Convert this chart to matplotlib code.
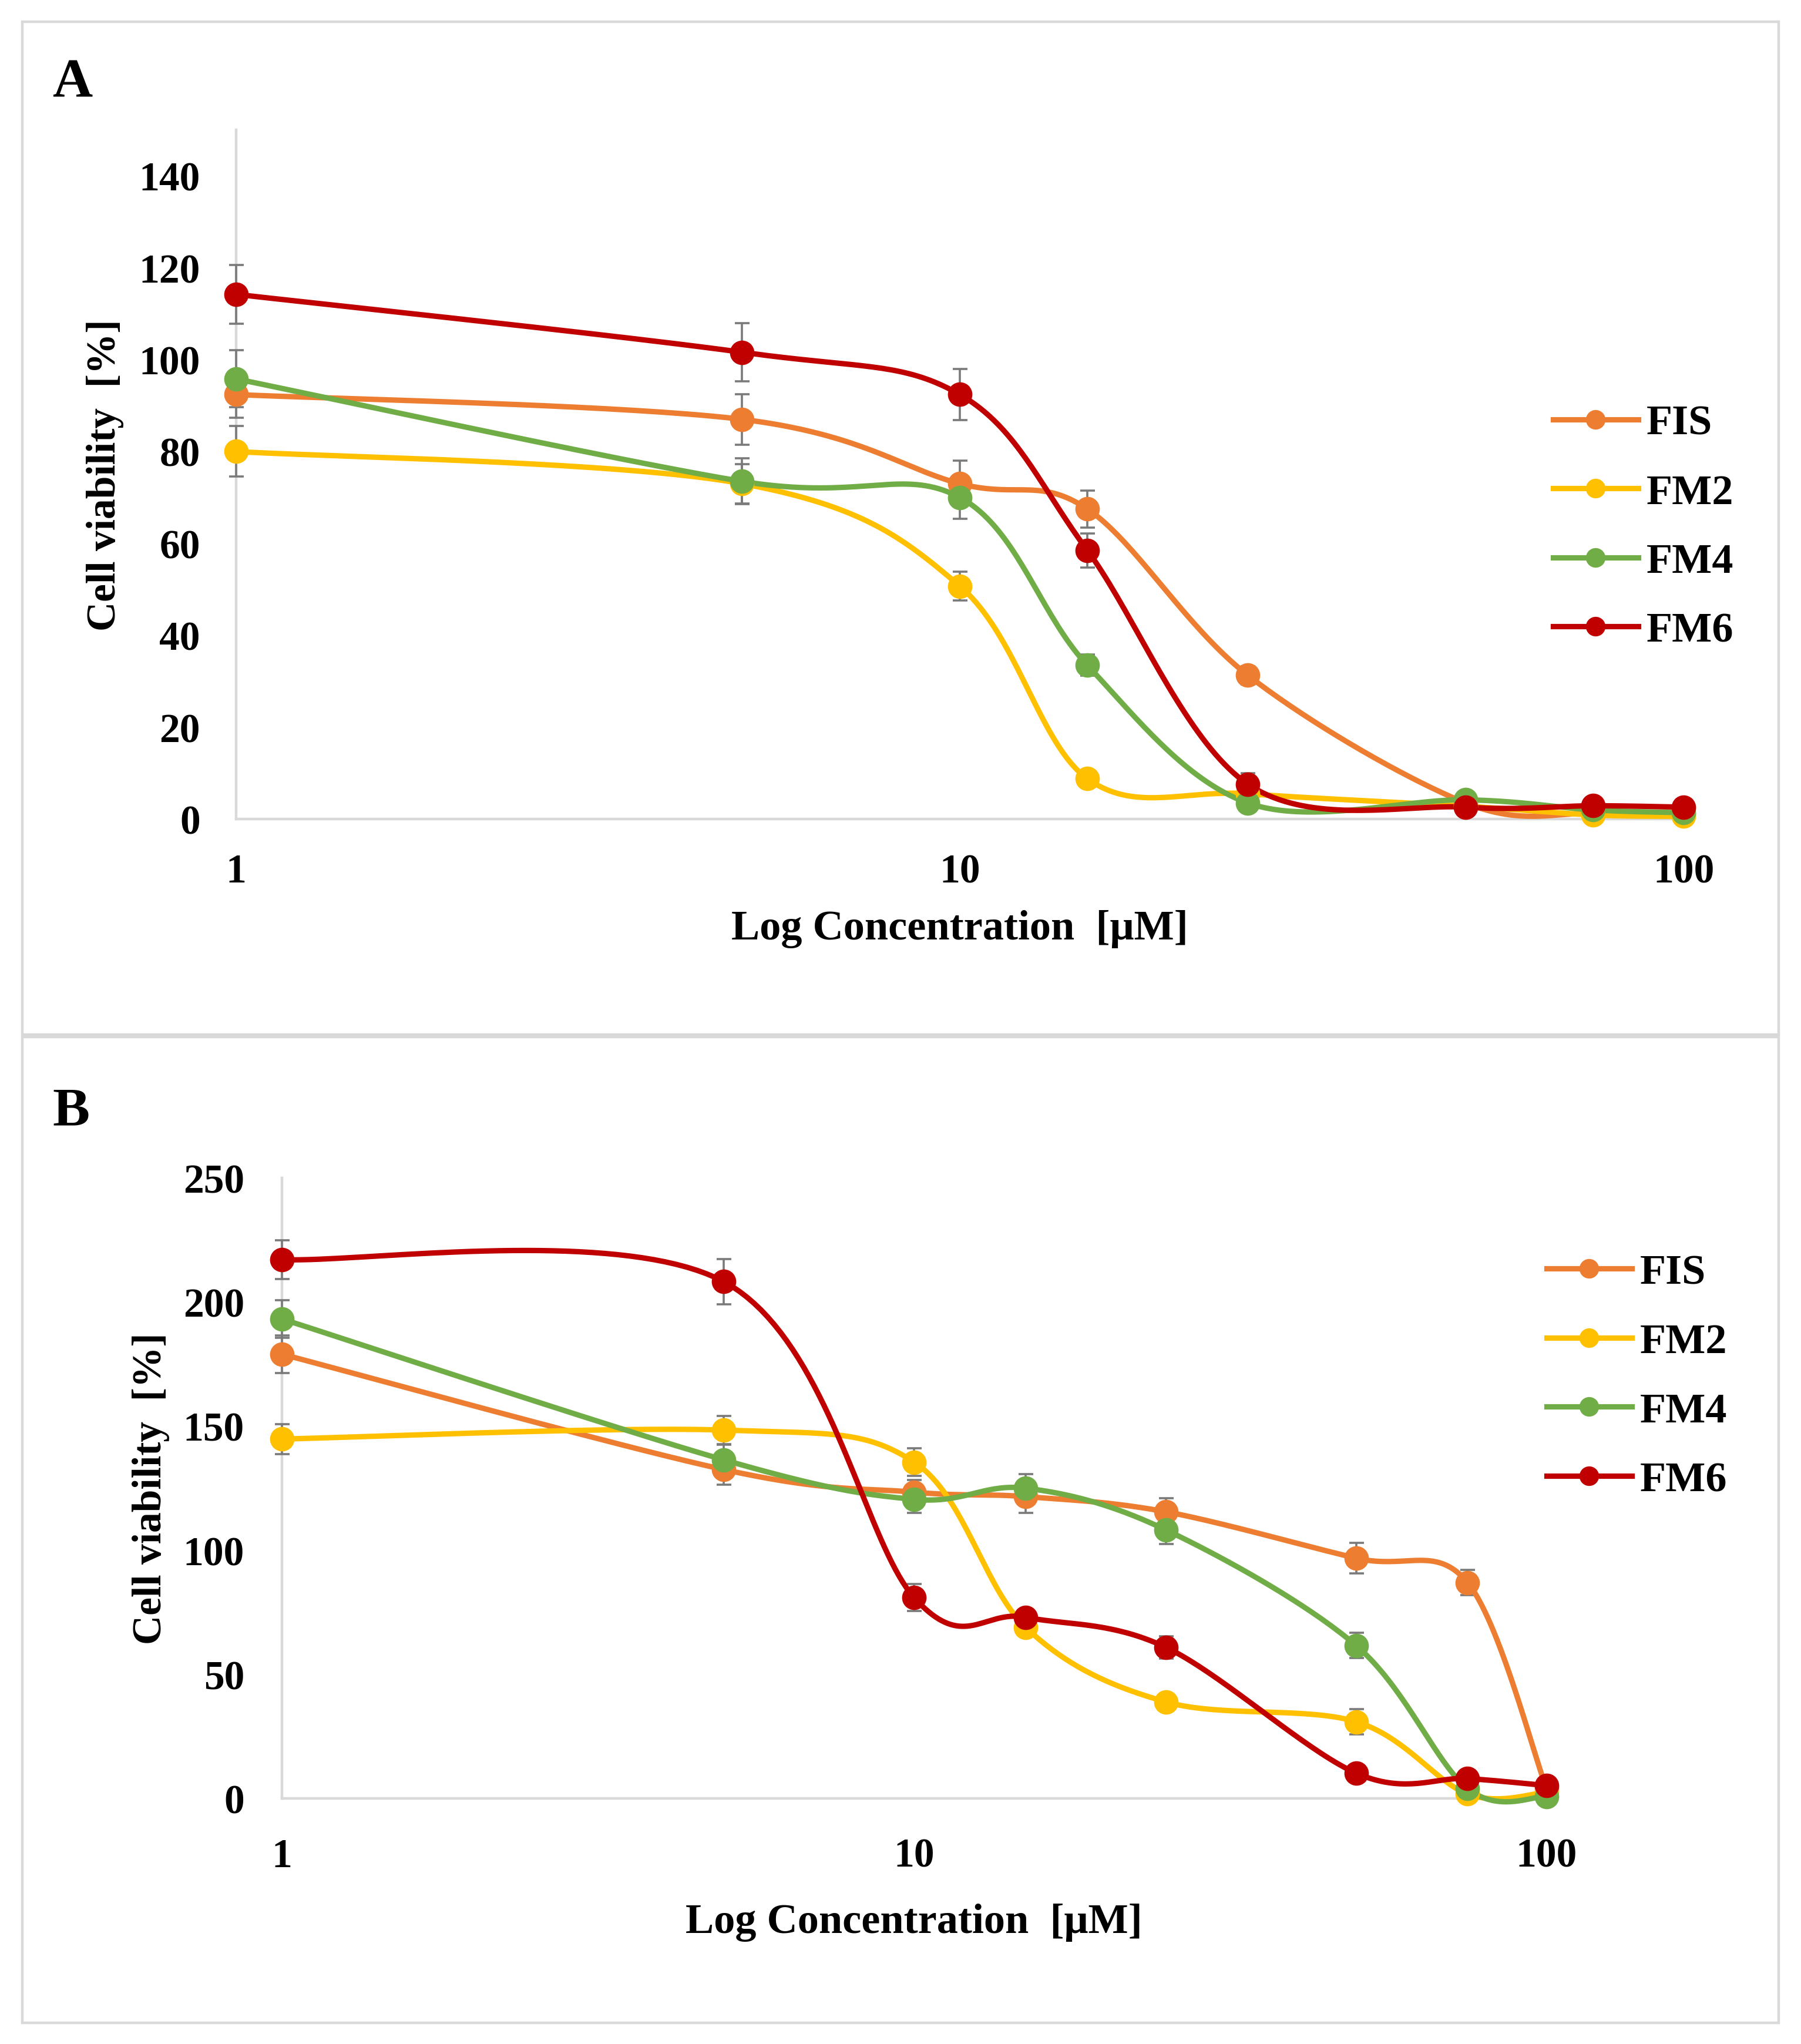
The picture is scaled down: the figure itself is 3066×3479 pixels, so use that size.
import numpy as np
import matplotlib
matplotlib.use("Agg")
import matplotlib.pyplot as plt
from matplotlib.patches import Rectangle
from matplotlib.ticker import NullLocator

# data
conc = [1, 5, 10, 15, 25, 50, 75, 100]
names = ["FIS", "FM2", "FM4", "FM6"]
colors = ["#ED7D31", "#FFC000", "#70AD47", "#C00000"]

# panel A
fis_a = [92.4, 87.0, 73.0, 67.5, 31.3, 3.5, 1.2, 1.0]
fm2_a = [80.0, 73.0, 50.7, 8.8, 5.5, 2.8, 0.9, 0.6]
fm4_a = [95.8, 73.5, 70.0, 33.5, 3.5, 4.2, 2.0, 1.4]
fm6_a = [114.2, 101.6, 92.4, 58.5, 7.6, 2.6, 2.9, 2.6]
fis_a_err = [5.0, 5.5, 5.0, 4.0, 2.0, 0.8, 0.5, 0.5]
fm2_a_err = [5.5, 4.3, 3.1, 1.8, 0.8, 0.5, 0.5, 0.5]
fm4_a_err = [6.2, 5.0, 4.6, 2.3, 1.0, 0.8, 0.5, 0.5]
fm6_a_err = [6.4, 6.3, 5.6, 3.7, 2.4, 0.8, 0.8, 0.8]

# panel B
fis_b = [179.0, 132.5, 123.4, 121.6, 115.5, 96.8, 87.0, 4.0]
fm2_b = [144.8, 148.4, 135.5, 69.0, 38.9, 30.9, 1.8, 2.5]
fm4_b = [193.2, 136.4, 120.5, 125.0, 108.2, 61.6, 4.0, 0.8]
fm6_b = [217.1, 208.2, 80.9, 73.0, 60.9, 10.2, 8.0, 5.2]
fis_b_err = [7.5, 6.0, 5.0, 6.5, 5.5, 6.2, 5.1, 1.0]
fm2_b_err = [6.0, 5.7, 5.5, 2.0, 2.0, 5.1, 1.0, 1.0]
fm4_b_err = [7.5, 6.0, 5.5, 5.7, 5.7, 5.1, 1.0, 1.0]
fm6_b_err = [7.8, 9.1, 5.4, 2.0, 4.5, 1.5, 1.5, 1.5]

FONT = "Liberation Serif"
plt.rcParams["font.family"] = [FONT, "DejaVu Serif"]
plt.rcParams["font.weight"] = "bold"


def smooth(x, y, n=40):
    # excel-like smoothed line (catmull-rom bezier) in log-x space
    u = np.log10(np.asarray(x, float))
    v = np.asarray(y, float)
    P = np.column_stack([u, v])
    Pe = np.vstack([P[0], P, P[-1]])
    t = np.linspace(0, 1, n)[:, None]
    out = []
    for i in range(len(P) - 1):
        p0, p3 = P[i], P[i + 1]
        c1 = p0 + (Pe[i + 2] - Pe[i]) / 6.0
        c2 = p3 - (Pe[i + 3] - Pe[i + 1]) / 6.0
        seg = ((1 - t) ** 3) * p0 + 3 * ((1 - t) ** 2) * t * c1 + 3 * (1 - t) * t ** 2 * c2 + t ** 3 * p3
        out.append(seg if i == 0 else seg[1:])
    out = np.vstack(out)
    return 10 ** out[:, 0], out[:, 1]


def draw_panel(ax, series, errs, ylim, yticks):
    for vals, err in zip(series, errs):
        eb = ax.errorbar(conc, vals, yerr=err, fmt="none", ecolor="#7a7a7a",
                         elinewidth=1.3, capsize=4.5, capthick=1.3, zorder=2)
        for art in eb.lines[1] + eb.lines[2]:
            art.set_clip_on(False)
    for vals, col, name in zip(series, colors, names):
        sx, sy = smooth(conc, vals)
        ax.plot(sx, sy, color=col, lw=3.3, zorder=3, solid_capstyle="round",
                clip_on=False)
        ax.plot(conc, vals, "o", color=col, ms=14, zorder=4, clip_on=False)
        # legend proxy
        ax.plot([], [], "-o", color=col, lw=3.3, ms=11, label=name)
    ax.set_xscale("log")
    ax.set_xlim(1, 100)
    ax.set_ylim(*ylim)
    ax.set_xticks([1, 10, 100])
    ax.set_xticklabels(["1", "10", "100"])
    ax.xaxis.set_minor_locator(NullLocator())
    ax.set_yticks(yticks)
    ax.set_yticklabels([str(v) for v in yticks])
    for s in ["top", "right"]:
        ax.spines[s].set_visible(False)
    for s in ["left", "bottom"]:
        ax.spines[s].set_color("#d9d9d9")
        ax.spines[s].set_linewidth(1.6)
        ax.spines[s].set_zorder(1)
    ax.tick_params(length=0, labelsize=25)
    for lab in ax.get_xticklabels() + ax.get_yticklabels():
        lab.set_fontweight("bold")


fig = plt.figure(figsize=(15.33, 17.4), dpi=200)

# panel frames
fig.add_artist(Rectangle((38 / 3066, 1 - 1762 / 3480), 2990 / 3066, 1724 / 3480,
                         transform=fig.transFigure, fill=False, ec="#d9d9d9", lw=1.6))
fig.add_artist(Rectangle((38 / 3066, 1 - 3444 / 3480), 2990 / 3066, 1678 / 3480,
                         transform=fig.transFigure, fill=False, ec="#d9d9d9", lw=1.6))

# panel A
axA = fig.add_axes([0.1311, 0.5991, 0.8037, 0.3371])
draw_panel(axA, [fis_a, fm2_a, fm4_a, fm6_a],
           [fis_a_err, fm2_a_err, fm4_a_err, fm6_a_err],
           (0, 150), [0, 20, 40, 60, 80, 100, 120, 140])
axA.tick_params(axis="x", pad=21)
axA.tick_params(axis="y", pad=22)
axA.set_xlabel("Log Concentration  [\u03bcM]", fontsize=26, fontweight="bold")
axA.xaxis.set_label_coords(0.5, -0.131)
axA.set_ylabel("Cell viability  [%]", fontsize=25, fontweight="bold")
axA.yaxis.set_label_coords(-0.0775, 0.5)
axA.legend(loc="center left", bbox_to_anchor=(0.8624, 0.7418),
           bbox_transform=fig.transFigure, frameon=False, fontsize=26,
           handlelength=2.0, handletextpad=0.2, labelspacing=0.72,
           borderpad=0, borderaxespad=0)
fig.text(89 / 3066, 1 - 142 / 3480, "A", fontsize=34, fontweight="bold",
         ha="left", va="center")

# panel B
axB = fig.add_axes([0.1565, 0.1201, 0.7022, 0.3035])
draw_panel(axB, [fis_b, fm2_b, fm4_b, fm6_b],
           [fis_b_err, fm2_b_err, fm4_b_err, fm6_b_err],
           (0, 250), [0, 50, 100, 150, 200, 250])
axB.tick_params(axis="x", pad=24)
axB.tick_params(axis="y", pad=23)
axB.set_xlabel("Log Concentration  [\u03bcM]", fontsize=26, fontweight="bold")
axB.xaxis.set_label_coords(0.5, -0.1686)
axB.set_ylabel("Cell viability  [%]", fontsize=25, fontweight="bold")
axB.yaxis.set_label_coords(-0.0887, 0.5)
axB.legend(loc="center left", bbox_to_anchor=(0.8588, 0.3264),
           bbox_transform=fig.transFigure, frameon=False, fontsize=26,
           handlelength=2.0, handletextpad=0.2, labelspacing=0.72,
           borderpad=0, borderaxespad=0)
fig.text(89 / 3066, 1 - 1893 / 3480, "B", fontsize=34, fontweight="bold",
         ha="left", va="center")

fig.savefig("out.png", dpi=200, facecolor="white")
